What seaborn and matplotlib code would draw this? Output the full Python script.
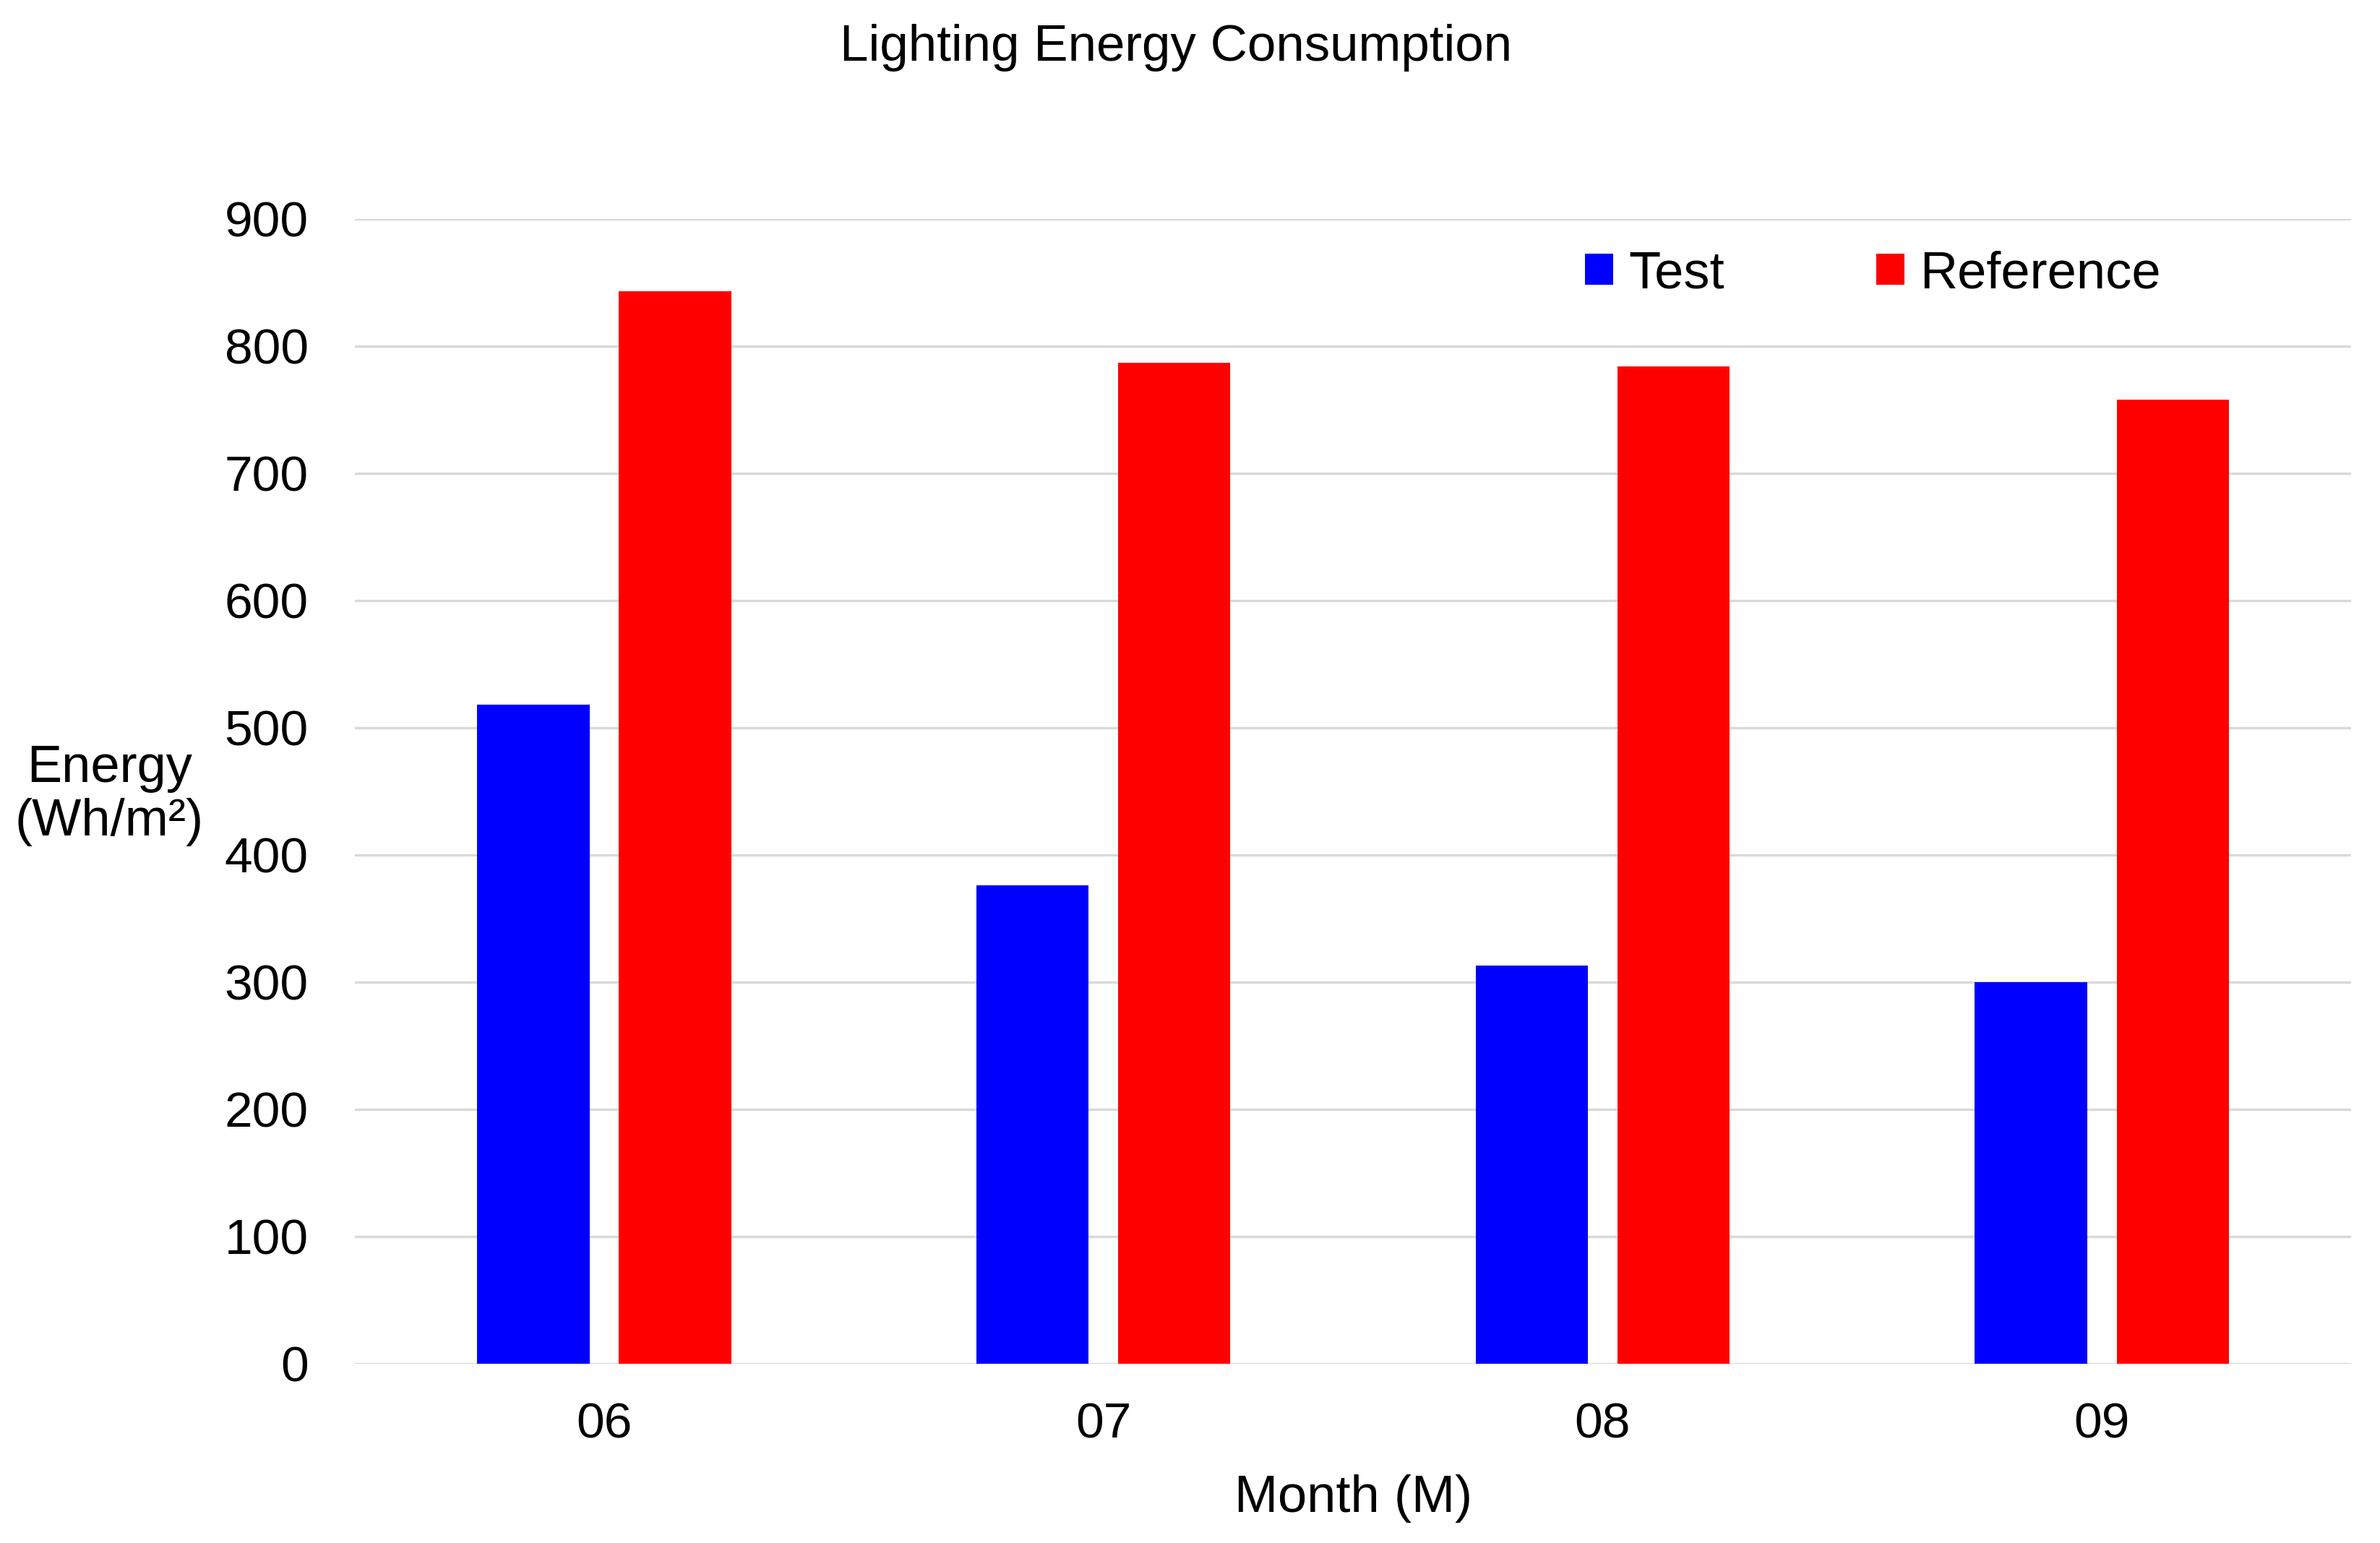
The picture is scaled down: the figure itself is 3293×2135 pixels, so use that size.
import pandas as pd
import seaborn as sns
import matplotlib.pyplot as plt

# -------- DATA --------
months = ["06", "07", "08", "09"]
test_values = [518, 376, 313, 300]
reference_values = [843, 787, 784, 758]
series_names = ["Test", "Reference"]
y_ticks = [0, 100, 200, 300, 400, 500, 600, 700, 800, 900]

df = pd.DataFrame({
    "Month": months * 2,
    "Energy": test_values + reference_values,
    "Series": [series_names[0]] * len(months) + [series_names[1]] * len(months),
})

# -------- STYLE --------
sns.set_style("white")
plt.rcParams["font.family"] = ["Liberation Sans", "DejaVu Sans"]
plt.rcParams["text.color"] = "black"
plt.rcParams["axes.labelcolor"] = "black"

fig = plt.figure(figsize=(16.465, 10.675), dpi=200)
ax = fig.add_axes([0.149, 0.1162, 0.839, 0.742])

sns.barplot(
    data=df, x="Month", y="Energy", hue="Series", order=months,
    hue_order=series_names,
    palette={"Test": "#0000ff", "Reference": "#ff0000"},
    saturation=1, width=0.568, gap=0.208, linewidth=0, ax=ax,
)

ax.set_xlim(-0.5, 3.5)
ax.set_ylim(0, 900)
ax.set_yticks(y_ticks)
ax.yaxis.grid(True, color="#d9d9d9", linewidth=1.2)
ax.set_axisbelow(True)
for s in ax.spines.values():
    s.set_visible(False)
ax.tick_params(axis="both", length=0, labelsize=25, colors="black")
ax.tick_params(axis="x", pad=19)
ax.tick_params(axis="y", pad=23)

ax.set_xlabel("Month (M)", fontsize=26, labelpad=13, color="black")
ax.set_ylabel("")

# legend
handles, labels = ax.get_legend_handles_labels()
ax.legend(
    handles, labels, ncol=2, frameon=False, fontsize=26,
    loc="center left", bbox_to_anchor=(0.666, 0.822),
    bbox_transform=fig.transFigure, borderpad=0, borderaxespad=0,
    handlelength=0.54, handleheight=0.54, handletextpad=0.3,
    columnspacing=2.9, labelcolor="black",
)

fig.text(0.494, 0.969, "Lighting Energy Consumption", ha="center", va="center",
         fontsize=25.5, color="black")
fig.text(0.046, 0.4845, "Energy\n(Wh/m²)", ha="center", va="center",
         fontsize=26, multialignment="center", linespacing=1.15, color="black")

plt.savefig("out.png", dpi=200)
plt.close()
